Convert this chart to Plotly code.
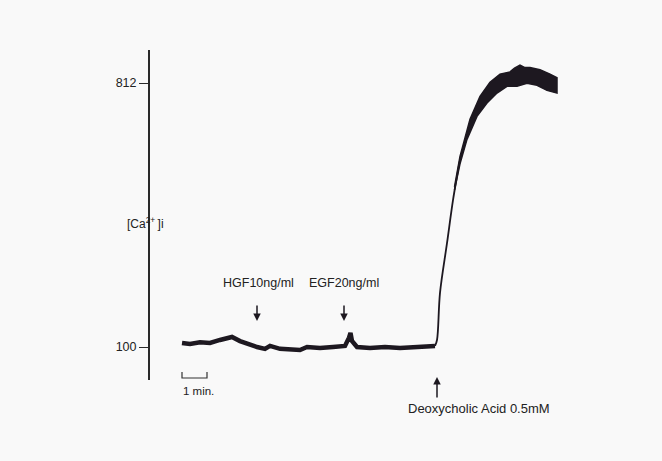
import plotly.graph_objects as go

# time in minutes, [Ca2+]i in nM
base_t = [0.0, 0.32, 0.72, 1.12, 1.52, 2.0, 2.32, 2.72, 3.0, 3.32, 3.52, 3.92, 4.44, 4.72,
          5.0, 5.52, 6.04, 6.52, 6.68, 6.74, 6.8, 7.0, 7.52, 8.12, 8.72, 9.52, 10.12]
base_v = [111, 108, 113, 111, 119, 127, 116, 105, 100, 95, 103, 95, 92, 92,
          100, 97, 100, 103, 125, 138, 116, 100, 97, 100, 97, 100, 103]

rise_t = [10.12, 10.2, 10.32, 10.6, 10.84, 11.0, 11.12, 11.3]
rise_v = [103, 119, 246, 380, 496, 560, 604, 650]

plat_up_t = [10.9, 11.12, 11.52, 11.92, 12.32, 12.72, 13.12, 13.3, 13.52, 13.7, 13.92, 14.32, 14.72, 15.0]
plat_up_v = [532, 614, 714, 776, 814, 836, 842, 852, 860, 854, 854, 848, 836, 826]
plat_lo_t = [15.0, 14.6, 14.2, 13.8, 13.4, 13.0, 12.6, 12.2, 11.8, 11.4, 11.12, 10.9]
plat_lo_v = [785, 792, 806, 811, 803, 803, 785, 758, 722, 660, 594, 524]

ytick_vals = [100, 812]
ytick_text = ["100", "812"]

ink = "#1d1820"
font_family = "Liberation Sans, Arial, sans-serif"

fig = go.Figure()
fig.add_trace(go.Scatter(x=rise_t, y=rise_v, mode="lines",
                         line=dict(color=ink, width=1.8, shape="spline"), hoverinfo="skip"))
fig.add_trace(go.Scatter(x=base_t, y=base_v, mode="lines",
                         line=dict(color=ink, width=4.5), hoverinfo="skip"))
fig.add_trace(go.Scatter(x=plat_up_t + plat_lo_t, y=plat_up_v + plat_lo_v, mode="lines",
                         fill="toself", fillcolor=ink,
                         line=dict(color=ink, width=1.5), hoverinfo="skip"))

fig.update_layout(
    width=662, height=461,
    margin=dict(l=150, r=42, t=50, b=81),
    paper_bgcolor="#f9f9f9", plot_bgcolor="#f9f9f9",
    showlegend=False,
    font=dict(family=font_family, color="#222222", size=12),
    xaxis=dict(range=[-1.28, 17.52], visible=False),
    yaxis=dict(range=[11, 901], showgrid=False, zeroline=False,
               showline=True, linecolor="#2a2a2a", linewidth=2,
               tickmode="array", tickvals=ytick_vals, ticktext=ytick_text,
               ticks="outside", ticklen=9, tickwidth=1, tickcolor="#2a2a2a",
               tickfont=dict(size=12.5, color="#222222")),
)

# y label
fig.add_annotation(text="[Ca<sup>2+ </sup>]i", xref="paper", yref="y", x=-0.053, y=434,
                   yanchor="middle", showarrow=False, font=dict(size=12))

# HGF / EGF labels and arrows
fig.add_annotation(text="HGF10ng/ml", x=3.04, y=273, yanchor="middle",
                   showarrow=False, font=dict(size=12.5))
fig.add_annotation(text="EGF20ng/ml", x=6.46, y=273, yanchor="middle",
                   showarrow=False, font=dict(size=12.5))
for tx in [3.0, 6.48]:
    fig.add_annotation(text="", x=tx, y=170, ax=0, ay=-17, showarrow=True,
                       arrowhead=2, arrowsize=1, arrowwidth=1.5, arrowcolor=ink)

# Deoxycholic acid arrow and label
fig.add_annotation(text="", x=10.2, xref="x", yref="paper", y=0.009, ax=0, ay=22,
                   showarrow=True, arrowhead=2, arrowsize=1, arrowwidth=1.5, arrowcolor=ink)
fig.add_annotation(text="Deoxycholic Acid 0.5mM", x=11.86, xref="x", yref="paper", y=-0.085,
                   yanchor="middle", showarrow=False, font=dict(size=13))

# 1 min scale bar
fig.add_shape(type="path", xref="x", yref="paper",
              path="M 0,0.024 L 0,0.006 L 1,0.006 L 1,0.024",
              line=dict(color="#333333", width=1.2))
fig.add_annotation(text="1 min.", x=-0.05, xref="x", yref="paper", y=-0.033,
                   xanchor="left", yanchor="middle", showarrow=False, font=dict(size=11.5))

fig.write_html("out.html")
